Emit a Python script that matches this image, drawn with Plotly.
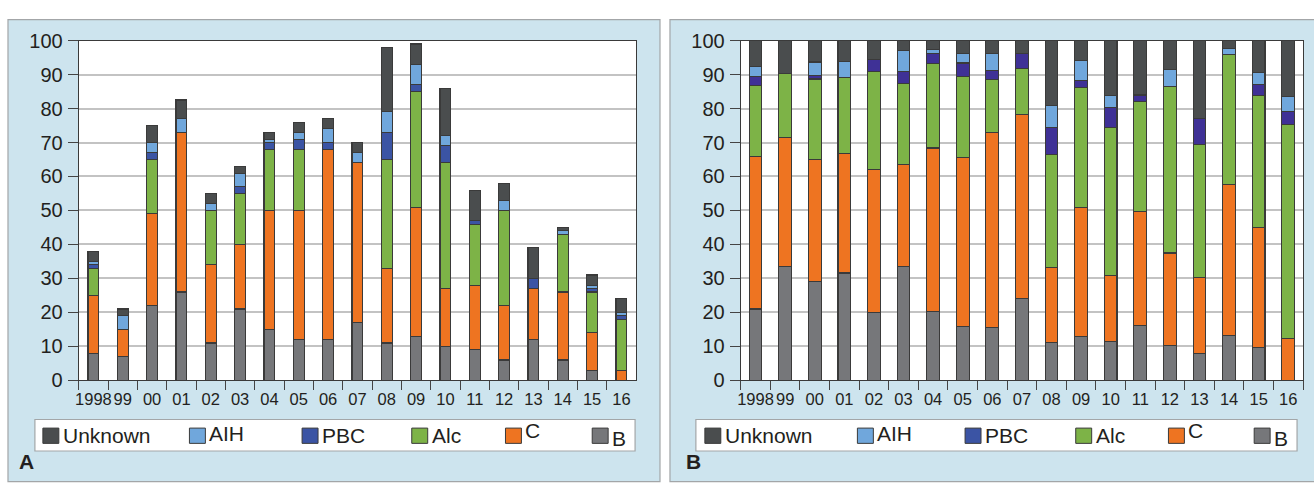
import plotly.graph_objects as go

# ---- data ---------------------------------------------------------------
years = ["1998", "99", "00", "01", "02", "03", "04", "05", "06", "07",
         "08", "09", "10", "11", "12", "13", "14", "15", "16"]
series_names = ["Unknown", "AIH", "PBC", "Alc", "C", "B"]

# Panel A: number of cases per year (segment heights, stacked bottom -> top: B, C, Alc, PBC, AIH, Unknown)
a_B       = [8, 7, 22, 26, 11, 21, 15, 12, 12, 17, 11, 13, 10, 9, 6, 12, 6, 3, 0]
a_C       = [17, 8, 27, 47, 23, 19, 35, 38, 56, 47, 22, 38, 17, 19, 16, 15, 20, 11, 3]
a_Alc     = [8, 0, 16, 0, 16, 15, 18, 18, 0, 0, 32, 34, 37, 18, 28, 0, 17, 12, 15]
a_PBC     = [1, 0, 2, 0, 0, 2, 2, 3, 2, 0, 8, 2, 5, 1, 0, 3, 0, 1, 1]
a_AIH     = [1, 4, 3, 4, 2, 4, 1, 2, 4, 3, 6, 6, 3, 0, 3, 0, 1, 1, 1]
a_Unknown = [3, 2, 5, 5.5, 3, 2, 2, 3, 3, 3, 19, 6, 14, 9, 5, 9, 1, 3, 4]

# Panel B: percentage share per year
b_B       = [21.0, 33.4, 29.2, 31.6, 19.9, 33.4, 20.3, 15.8, 15.6, 24.2, 11.1, 12.9, 11.4, 16.1, 10.3, 7.8, 13.2, 9.7, 0]
b_C       = [44.8, 38.0, 35.9, 35.3, 42.2, 30.2, 48.1, 49.7, 57.3, 54.0, 22.1, 38.1, 19.4, 33.7, 27.2, 22.4, 44.4, 35.2, 12.4]
b_Alc     = [21.0, 19.0, 23.6, 22.2, 28.8, 23.8, 24.9, 24.0, 15.6, 13.5, 33.2, 35.1, 43.7, 32.4, 49.0, 39.1, 38.3, 39.0, 62.8]
b_PBC     = [2.7, 0, 1.0, 0, 3.5, 3.5, 2.9, 3.9, 2.6, 4.6, 7.9, 2.1, 5.8, 1.8, 0, 7.9, 0, 3.3, 4.0]
b_AIH     = [2.9, 0, 4.0, 4.8, 0, 6.2, 1.1, 2.8, 5.1, 0, 6.5, 5.9, 3.5, 0, 5.0, 0, 1.9, 3.3, 4.3]
b_Unknown = [7.6, 9.6, 6.3, 6.1, 5.6, 2.9, 2.7, 3.8, 3.8, 3.7, 19.2, 5.9, 16.2, 16.0, 8.5, 22.8, 2.2, 9.5, 16.5]

y_ticks = list(range(0, 101, 10))

# ---- styling ------------------------------------------------------------
W, H = 1314, 483
TEXT = "#231f20"
PANEL_BG = "#cde4ee"
PANEL_EDGE = "#a3a6a8"
OUTLINE = "#3a3a3a"
colors_a = {"B": "#76777a", "C": "#ee7421", "Alc": "#7db347",
            "PBC": "#3b54a4", "AIH": "#70a7dc", "Unknown": "#4a4d4e"}
colors_b = dict(colors_a, PBC="#3f3196")
legend_colors = colors_a

FONT = "Liberation Sans, Arial, sans-serif"


def px(x):
    return x / W


def py(y):
    return 1 - y / H


panels = [
    dict(xa="x", ya="y", dom=(75, 634), width=0.37, colors=colors_a,
         data={"B": a_B, "C": a_C, "Alc": a_Alc, "PBC": a_PBC, "AIH": a_AIH, "Unknown": a_Unknown},
         frame=(4, 658), legend_box=(31, 633),
         legend_sq=[39, 186, 299, 409, 503, 590], label="A", label_x=13),
    dict(xa="x2", ya="y2", dom=(739, 1303), width=0.43, colors=colors_b,
         data={"B": b_B, "C": b_C, "Alc": b_Alc, "PBC": b_PBC, "AIH": b_AIH, "Unknown": b_Unknown},
         frame=(668, 1330), legend_box=(694, 1297),
         legend_sq=[703, 856, 964, 1075, 1168, 1254], label="B", label_x=682),
]

fig = go.Figure()
shapes = []
annotations = []

PLOT_TOP, PLOT_BOTTOM = 31, 387

for p in panels:
    # panel background and white plotting area
    shapes.append(dict(type="rect", xref="paper", yref="paper",
                       x0=px(p["frame"][0]), x1=px(p["frame"][1]), y0=py(H + 10), y1=py(9),
                       fillcolor=PANEL_BG, line=dict(color=PANEL_EDGE, width=1.2), layer="below"))
    shapes.append(dict(type="rect", xref="paper", yref="paper",
                       x0=px(p["dom"][0]), x1=px(p["dom"][1]), y0=py(PLOT_BOTTOM), y1=py(PLOT_TOP),
                       fillcolor="white", line=dict(width=0), layer="below"))

    # stacked bars, bottom to top
    for name in ["B", "C", "Alc", "PBC", "AIH", "Unknown"]:
        vals = [v if v else None for v in p["data"][name]]
        fig.add_trace(go.Bar(
            x=years, y=vals, name=name, xaxis=p["xa"], yaxis=p["ya"],
            width=p["width"], showlegend=False, hoverinfo="skip",
            marker=dict(color=p["colors"][name], line=dict(color=OUTLINE, width=1.1)),
        ))

    # legend box
    lx0, lx1 = p["legend_box"]
    shapes.append(dict(type="rect", xref="paper", yref="paper",
                       x0=px(lx0), x1=px(lx1), y0=py(461), y1=py(428),
                       fillcolor="white", line=dict(color=PANEL_EDGE, width=1.2)))
    text_dy = {"Unknown": 0, "AIH": -2, "PBC": 0, "Alc": 0, "C": -5, "B": 3}
    for name, sx in zip(series_names, p["legend_sq"]):
        shapes.append(dict(type="rect", xref="paper", yref="paper",
                           x0=px(sx), x1=px(sx + 16), y0=py(453), y1=py(437),
                           fillcolor=legend_colors[name], line=dict(color=OUTLINE, width=1)))
        annotations.append(dict(xref="paper", yref="paper", x=px(sx + 18), y=py(445 + text_dy[name]),
                                text=name, showarrow=False, xanchor="left", yanchor="middle",
                                font=dict(family=FONT, size=21, color=TEXT)))

    # panel letter
    annotations.append(dict(xref="paper", yref="paper", x=px(p["label_x"]), y=py(472),
                            text="<b>%s</b>" % p["label"], showarrow=False,
                            xanchor="left", yanchor="middle",
                            font=dict(family=FONT, size=21, color=TEXT)))

axis_common_x = dict(type="category", range=[-0.5, len(years) - 0.5], tickson="boundaries",
                     ticks="outside", ticklen=9, tickwidth=1.2, tickcolor="#444",
                     tickangle=0, ticklabelstandoff=4,
                     showline=True, linecolor="#3a3a3a", linewidth=1.2, mirror=True,
                     showgrid=False, tickfont=dict(family=FONT, size=16.5, color=TEXT),
                     fixedrange=True)
axis_common_y = dict(range=[0, 100], tickvals=y_ticks, ticks="outside", ticklen=10,
                     tickwidth=1.2, tickcolor="#444", showline=True, linecolor="#3a3a3a",
                     linewidth=1.2, mirror=True, showgrid=True, gridcolor="#c3c3c3",
                     gridwidth=1.6, zeroline=False, ticklabelstandoff=1,
                     tickfont=dict(family=FONT, size=20, color=TEXT), fixedrange=True)

ydom = [py(PLOT_BOTTOM), py(PLOT_TOP)]
fig.update_layout(
    width=W, height=H, margin=dict(l=0, r=0, t=0, b=0),
    paper_bgcolor="white", plot_bgcolor="rgba(0,0,0,0)",
    barmode="stack",
    xaxis=dict(axis_common_x, domain=[px(75), px(634)], anchor="y"),
    yaxis=dict(axis_common_y, domain=ydom, anchor="x"),
    xaxis2=dict(axis_common_x, domain=[px(739), px(1303)], anchor="y2"),
    yaxis2=dict(axis_common_y, domain=ydom, anchor="x2"),
    shapes=shapes, annotations=annotations,
    showlegend=False,
)

fig.write_html("out.html")
